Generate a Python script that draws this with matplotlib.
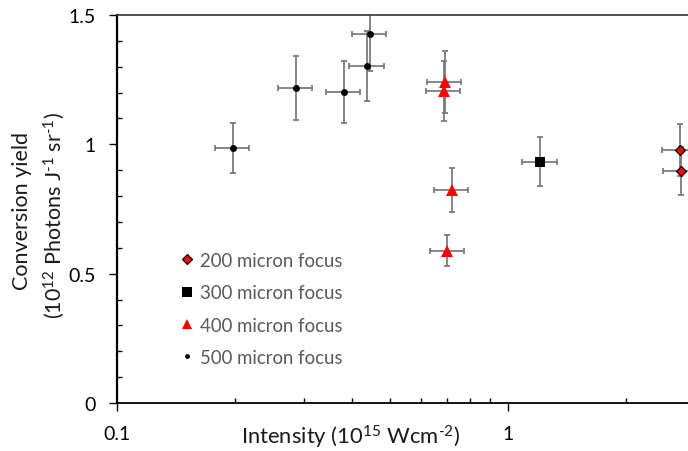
import matplotlib
matplotlib.use("Agg")
import matplotlib.pyplot as plt
from matplotlib.lines import Line2D
from matplotlib.ticker import FixedLocator, LogLocator, NullFormatter, MultipleLocator, FixedFormatter

plt.rcParams['font.family'] = ['Lato', 'DejaVu Sans']
plt.rcParams['mathtext.default'] = 'regular'

# ---- data ----
x200 = [2.759, 2.770]
y200 = [0.978, 0.897]
yerr200 = [0.100, 0.093]
xerr200 = [0.276, 0.277]

x300 = [1.21]
y300 = [0.932]
yerr300 = [0.095]
xerr300 = [0.121]

x400 = [0.691, 0.686, 0.718, 0.700]
y400 = [1.240, 1.207, 0.823, 0.589]
yerr400 = [0.120, 0.116, 0.085, 0.060]
xerr400 = [0.069, 0.069, 0.072, 0.070]

x500 = [0.198, 0.287, 0.381, 0.437, 0.444]
y500 = [0.985, 1.218, 1.204, 1.303, 1.427]
yerr500 = [0.097, 0.122, 0.120, 0.134, 0.144]
xerr500 = [0.020, 0.029, 0.038, 0.044, 0.044]

labels = ['200 micron focus', '300 micron focus', '400 micron focus', '500 micron focus']
yticks = [0, 0.5, 1, 1.5]
ytick_labels = ['0', '0.5', '1', '1.5']
xticks = [0.1, 1]
xtick_labels = ['0.1', '1']

W, H = 688, 452
fig = plt.figure(figsize=(W / 100, H / 100), dpi=100)
ax = fig.add_axes([117 / W, 1 - 404 / H, (688 - 117) / W, (404 - 16) / H])

err_kw = dict(fmt='none', ecolor='#767676', elinewidth=1.25, capsize=2.2, capthick=1.25, zorder=2)
ax.errorbar(x200, y200, yerr=yerr200, xerr=xerr200, **err_kw)
ax.errorbar(x300, y300, yerr=yerr300, xerr=xerr300, **err_kw)
ax.errorbar(x400, y400, yerr=yerr400, xerr=xerr400, **err_kw)
ax.errorbar(x500, y500, yerr=yerr500, xerr=xerr500, **err_kw)

ax.plot(x200, y200, 'D', ms=5.6, mfc='#ff0000', mec='black', mew=0.9, ls='none', zorder=3)
ax.plot(x300, y300, 's', ms=7.9, mfc='black', mec='black', mew=0, ls='none', zorder=3)
ax.plot(x400, y400, '^', ms=9, mfc='#ff0000', mec='#ff0000', mew=0, ls='none', zorder=3)
ax.plot(x500, y500, 'o', ms=5.0, mfc='black', mec='black', mew=0, ls='none', zorder=3)

ax.set_xscale('log')
ax.set_xlim(0.1, 2.887)
ax.set_ylim(0, 1.5)

ax.xaxis.set_major_locator(FixedLocator(xticks))
ax.xaxis.set_major_formatter(FixedFormatter(xtick_labels))
ax.xaxis.set_minor_locator(LogLocator(base=10, subs=[2, 3, 4, 5, 6, 7, 8, 9]))
ax.xaxis.set_minor_formatter(NullFormatter())
ax.yaxis.set_major_locator(FixedLocator(yticks))
ax.yaxis.set_major_formatter(FixedFormatter(ytick_labels))
ax.yaxis.set_minor_locator(MultipleLocator(0.1))

ax.tick_params(which='major', direction='out', length=5.5, width=1.0, color='black',
               labelsize=14, labelcolor='black')
ax.tick_params(axis='y', which='major', pad=9.5)
ax.tick_params(axis='x', which='major', pad=10.5)
ax.tick_params(which='minor', direction='in', length=3.6, width=1.0, color='black')

ax.spines['right'].set_visible(False)
ax.spines['left'].set_linewidth(1.6)
ax.spines['bottom'].set_linewidth(1.3)
ax.spines['top'].set_linewidth(1.2)
ax.spines['top'].set_color('#333333')

# axis labels
fig.text(351 / W, 1 - 445 / H, 'Intensity (10$^{15}$ Wcm$^{\u20102}$)', ha='center', va='baseline',
         fontsize=15.8, color='#1a1a1a')
fig.text(21.7 / W, 1 - 211 / H, 'Conversion yield', rotation=90, ha='center', va='center',
         fontsize=15.5, color='#1a1a1a')
fig.text(54 / W, 1 - 216 / H, '(10$^{12}$ Photons J$^{\u20101}$ sr$^{\u20101}$)', rotation=90,
         ha='center', va='center', fontsize=15.5, color='#1a1a1a')

handles = [
    Line2D([], [], marker='D', ms=5.2, mfc='#ff0000', mec='black', mew=0.9, ls='none'),
    Line2D([], [], marker='s', ms=7.2, mfc='black', mec='black', mew=0, ls='none'),
    Line2D([], [], marker='^', ms=7.8, mfc='#ff0000', mec='#ff0000', mew=0, ls='none'),
    Line2D([], [], marker='o', ms=3.5, mfc='black', mec='black', mew=0, ls='none'),
]
leg = fig.legend(handles, labels, loc='upper left', bbox_to_anchor=(179.6 / W, 1 - 253 / H),
                 frameon=False, fontsize=13.4, handlelength=0.78, handletextpad=0.3,
                 labelspacing=0.82, borderpad=0, borderaxespad=0)
for t in leg.get_texts():
    t.set_color('#595959')

fig.savefig('out.png', dpi=100)
